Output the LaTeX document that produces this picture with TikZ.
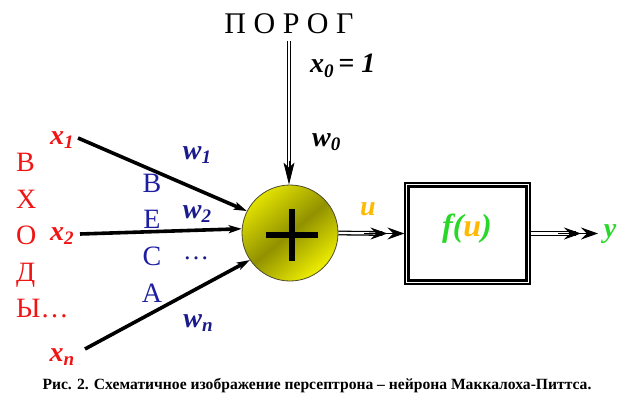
\documentclass[tikz,border=0pt]{standalone}
\usepackage{fontspec}
\setmainfont{Liberation Serif}
\usetikzlibrary{arrows.meta,shapes.geometric,calc}
\definecolor{inred}{RGB}{240,20,20}
\definecolor{wblue}{RGB}{26,26,140}
\definecolor{vblue}{RGB}{30,30,160}
\definecolor{fgreen}{RGB}{40,215,40}
\definecolor{uorange}{RGB}{255,185,0}
\definecolor{oliveD}{RGB}{145,145,0}
\definecolor{yelL}{RGB}{240,240,0}
\newcommand\sbs[1]{\raisebox{-0.35ex}{\scalebox{0.68}{#1}}}
\tikzset{
  lbl/.style={inner sep=0pt, font=\fontsize{28}{28}\selectfont\bfseries\itshape},
  inarrow/.style={line width=3.6pt, -{Stealth[length=13pt,width=8pt,inset=3pt]}},
  dblline/.style={double, line width=1.3pt, double distance=2.2pt},
  vtip/.style={line width=1pt, -{Stealth[length=22pt,width=11pt,inset=5pt]}},
  htip/.style={line width=1pt, -{Stealth[length=17pt,width=12pt,inset=6pt]Stealth[length=17pt,width=12pt,inset=6pt]}},
}
\begin{document}
\begin{tikzpicture}[x=1pt,y=-1pt]
\useasboundingbox (0,0) rectangle (633,405);
% threshold
\node[inner sep=0pt, font=\fontsize{30}{30}\selectfont] (porog) at (289,24) {П О Р О Г};
\coordinate (t0) at (289,41);
\node[lbl, anchor=west] (x0) at (310,66) {x\sbs{0}\,= 1};
\node[lbl, anchor=west] (w0) at (312,142) {w\sbs{0}};
% summator
\shade[top color=yelL!85!oliveD, bottom color=yelL, middle color=oliveD, shading angle=40]
  (290,233) circle (48);
\node[circle, draw=black!60!olive, line width=0.8pt, minimum size=96pt, inner sep=0pt] (sum) at (290,233) {};
\draw[line width=6pt] (266,235) -- (318,235);
\draw[line width=6pt] (292,209) -- (292,261);
\coordinate (t1) at (t0 |- sum.north);
\draw[dblline] (t0) -- ($(t1)!16pt!(t0)$);
\draw[vtip] ($(t1)!24pt!(t0)$) -- (t1);
% inputs
\node[lbl, text=inred] (x1) at (62,140) {x\sbs{1}};
\node[lbl, text=inred] (x2) at (62,236) {x\sbs{2}};
\node[lbl, text=inred] (xn) at (62,357) {x\sbs{n}};
\coordinate (s1) at (78,138);
\coordinate (s2) at (80,234);
\coordinate (sn) at (85,349);
\draw[inarrow] (s1) -- (sum.153);
\draw[inarrow] (s2) -- (sum.175);
\draw[inarrow] (sn) -- (sum.214);
\node[inner sep=0pt, align=left, anchor=north west, text=inred,
  font=\fontsize{28}{36.6}\selectfont] (vhody) at (16,153) {В\\Х\\О\\Д\\Ы…};
\node[inner sep=0pt, align=center, text=vblue,
  font=\fontsize{28}{36.6}\selectfont] (vesa) at (152,238) {В\\Е\\С\\А};
\node[lbl, text=wblue] (w1) at (197,155) {w\sbs{1}};
\node[lbl, text=wblue] (w2) at (197,214) {w\sbs{2}};
\node[inner sep=0pt, text=wblue, font=\fontsize{26}{26}\selectfont] (dots) at (196,258) {…};
\node[lbl, text=wblue] (wn) at (198,323) {w\sbs{n}};
% activation
\node[draw, line width=1.2pt, minimum width=125pt, minimum height=101pt, inner sep=0pt] (box) at (467.5,233.5) {};
\draw[line width=3pt] ([xshift=4.5pt,yshift=-4.5pt]box.north west) rectangle ([xshift=-4.5pt,yshift=4.5pt]box.south east);
\node[inner sep=0pt, font=\fontsize{32}{32}\selectfont\bfseries\itshape] (f) at (467,229)
  {\textcolor{fgreen}{f(}\textcolor{uorange}{u}\textcolor{fgreen}{)}};
\draw[dblline] (sum.east) -- ($(box.west)+(-22,0)$);
\draw[htip] ($(box.west)+(-40,0)$) -- (box.west);
\node[lbl, text=uorange] (u) at (368,209) {u};
\node[lbl, text=fgreen] (y) at (610,234) {y};
\coordinate (ye) at (598,233.5);
\draw[dblline] (box.east) -- ($(ye)+(-22,0)$);
\draw[htip] ($(ye)+(-40,0)$) -- (ye);
% caption
\node[inner sep=0pt, font=\fontsize{15.6}{15.6}\selectfont\bfseries] (cap) at (317,386)
  {Рис. 2. Схематичное изображение персептрона – нейрона Маккалоха-Питтса.};
\end{tikzpicture}
\end{document}
